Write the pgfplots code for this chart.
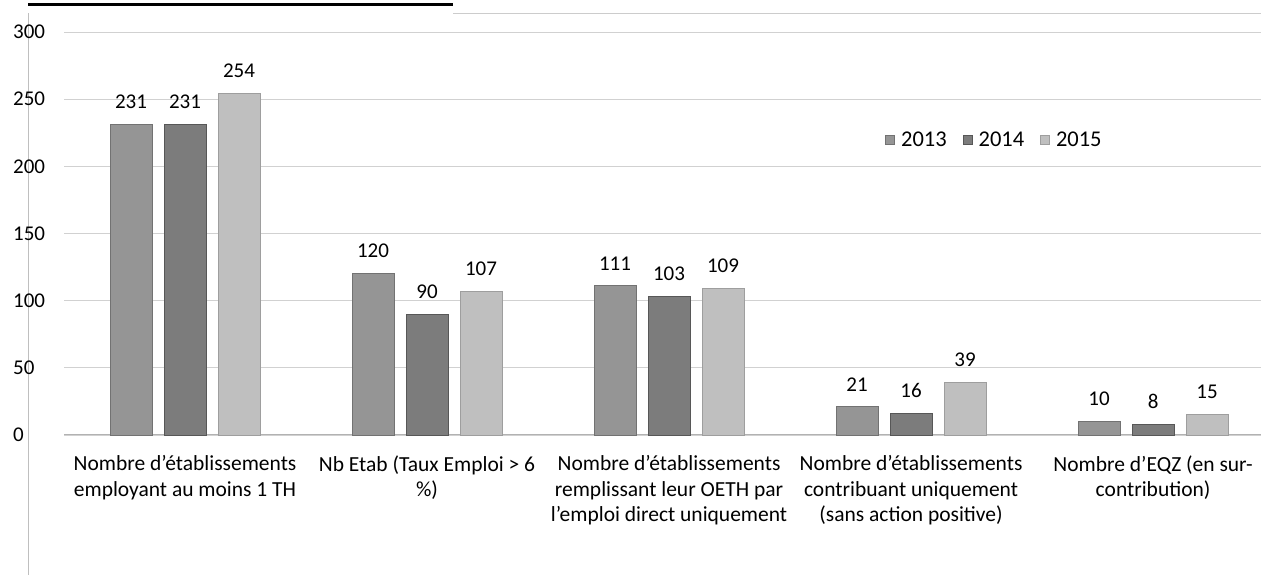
\documentclass[border=0pt]{standalone}
\usepackage{pgfplots}
\pgfplotsset{compat=1.18}
\usepackage{fontspec}
\setmainfont{Carlito}
\definecolor{cA}{HTML}{959595}
\definecolor{cB}{HTML}{7C7C7C}
\definecolor{cC}{HTML}{BFBFBF}
\definecolor{eA}{HTML}{727272}
\definecolor{eB}{HTML}{575757}
\definecolor{eC}{HTML}{9E9E9E}
\begin{document}
\begin{tikzpicture}[x=1pt,y=1pt]
\useasboundingbox (0,0) rectangle (1261,575);
\fill[white] (0,0) rectangle (1261,575);
% frame remnants of the scanned page
\draw[black!25, line width=0.8pt] (28,0) -- (28,562);
\draw[black!20, line width=0.8pt] (453,562) -- (1261,562);
\draw[black, line width=3pt] (28,570) -- (453,570);
\begin{axis}[
  at={(64pt,140pt)}, anchor=south west,
  scale only axis, width=1197pt, height=403pt,
  xmin=-0.5, xmax=4.446, ymin=0, ymax=300,
  ytick={0,50,...,300},
  xtick={0,1,2,3,4},
  xticklabels={{Nombre d’établissements\\employant au moins 1 TH},
               {Nb Etab (Taux Emploi > 6\\\%)},
               {Nombre d’établissements\\remplissant leur OETH par\\l’emploi direct uniquement},
               {Nombre d’établissements\\contribuant uniquement\\(sans action positive)},
               {Nombre d’EQZ (en sur-\\contribution)}},
  xticklabel style={align=center, font=\fontsize{21.5}{25.5}\selectfont, yshift=-17pt},
  yticklabel style={anchor=west, xshift=-51pt, inner sep=0pt, font=\fontsize{21}{24}\selectfont},
  /pgf/number format/assume math mode=true,
  axis line style={draw=none},
  major tick length=0pt,
  ymajorgrids, grid style={black!18, line width=0.8pt},
  extra y ticks={0}, extra y tick labels={},
  extra y tick style={grid style={black!30, line width=1pt}},
  ybar=12pt, bar width=42pt,
  nodes near coords,
  every node near coord/.append style={font=\fontsize{21}{24}\selectfont, yshift=12pt, black},
  legend columns=3,
  legend style={at={(0.686,0.732)}, anchor=west, draw=none, fill=none, inner sep=0pt,
    font=\fontsize{22.5}{26}\selectfont,
    /tikz/every odd column/.append style={column sep=4pt},
    /tikz/every even column/.append style={column sep=14pt}},
  legend image code/.code={\fill[#1] (0pt,-4.5pt) rectangle (9pt,4.5pt);},
  clip=false,
]
\addplot[fill=cA, draw=eA, line width=0.8pt] coordinates {(0,231) (1,120) (2,111) (3,21) (4,10)};
\addplot[fill=cB, draw=eB, line width=0.8pt] coordinates {(0,231) (1,90) (2,103) (3,16) (4,8)};
\addplot[fill=cC, draw=eC, line width=0.8pt] coordinates {(0,254) (1,107) (2,109) (3,39) (4,15)};
\legend{2013,2014,2015}
\end{axis}
\end{tikzpicture}
\end{document}
